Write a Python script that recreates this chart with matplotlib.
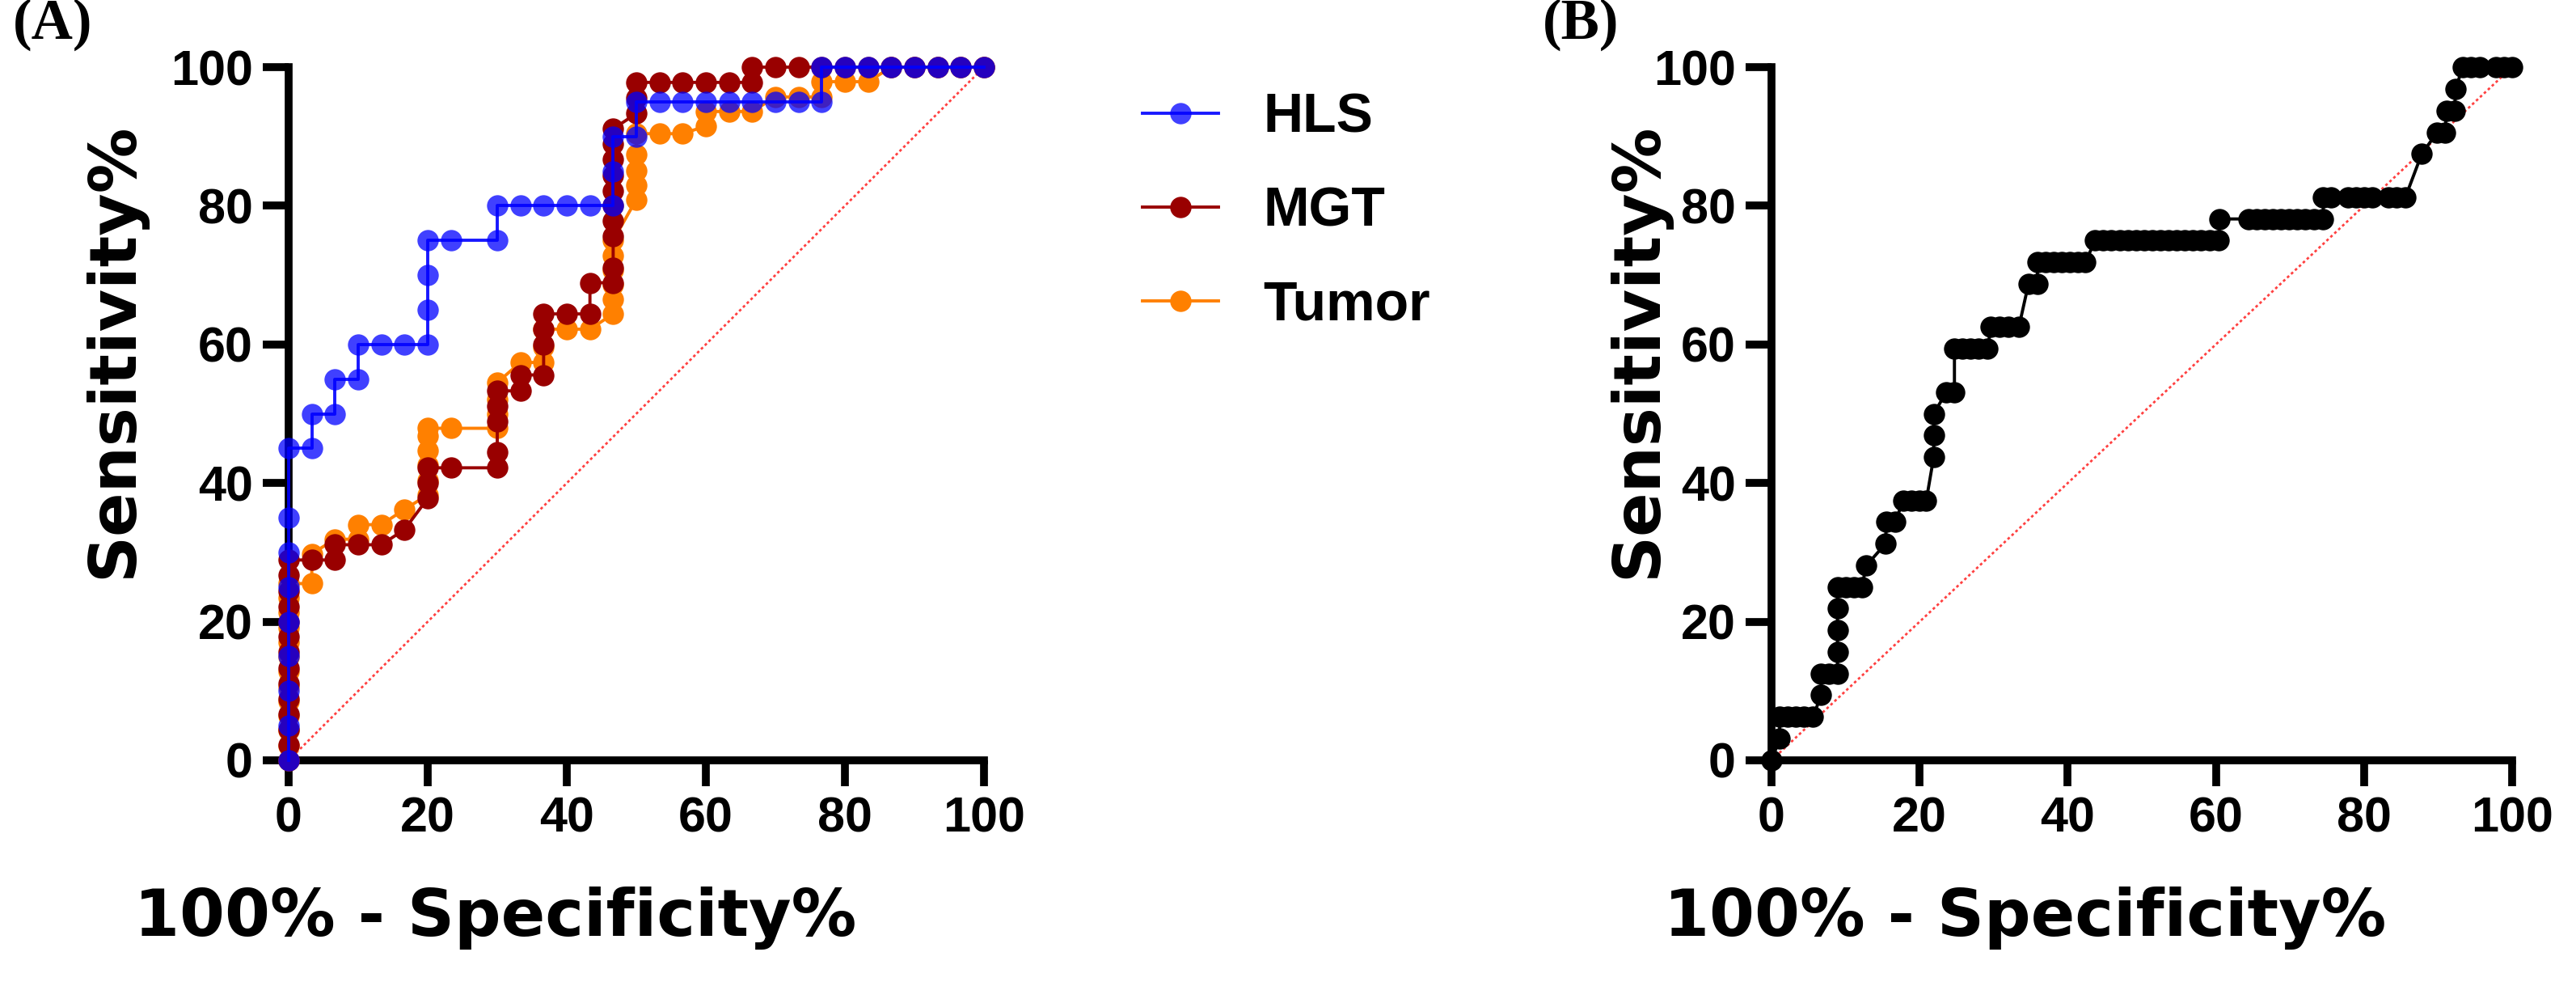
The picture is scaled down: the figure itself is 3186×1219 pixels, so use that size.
import matplotlib
matplotlib.use("Agg")
import matplotlib.pyplot as plt

# ---------------- data ----------------
ticks = [0, 20, 40, 60, 80, 100]
series_names = ["HLS", "MGT", "Tumor"]

hls_points = [(0, 0), (0, 5), (0, 10), (0, 15), (0, 20), (0, 25), (0, 30), (0, 35), (0, 45),
              (3.33, 45), (3.33, 50), (6.67, 50), (6.67, 55), (10, 55), (10, 60), (13.33, 60),
              (16.67, 60), (20, 60), (20, 65), (20, 70), (20, 75), (23.33, 75), (30, 75), (30, 80),
              (33.33, 80), (36.67, 80), (40, 80), (43.33, 80), (46.67, 80), (46.67, 85), (46.67, 90),
              (50, 90), (50, 95), (53.33, 95), (56.67, 95), (60, 95), (63.33, 95), (66.67, 95),
              (70, 95), (73.33, 95), (76.67, 95), (76.67, 100), (80, 100), (83.33, 100), (86.67, 100),
              (90, 100), (93.33, 100), (96.67, 100), (100, 100)]

mgt_points = [(0, 0), (0, 2.2), (0, 4.4), (0, 6.7), (0, 8.9), (0, 11.1), (0, 13.3), (0, 15.6),
              (0, 17.8), (0, 20), (0, 22.2), (0, 24.4), (0, 26.7), (0, 28.9),
              (3.33, 28.9), (6.67, 28.9), (6.67, 31.1), (10, 31.1), (13.33, 31.1), (16.67, 33.3),
              (20, 37.8), (20, 40), (20, 42.2), (23.33, 42.2), (30, 42.2), (30, 44.4), (30, 48.9),
              (30, 51.1), (30, 53.3), (33.33, 53.3), (33.33, 55.6), (36.67, 55.6), (36.67, 60),
              (36.67, 62.2), (36.67, 64.4), (40, 64.4), (43.33, 64.4), (43.33, 68.9),
              (46.67, 68.9), (46.67, 71.1), (46.67, 75.6), (46.67, 77.8), (46.67, 80), (46.67, 82.2),
              (46.67, 84.4), (46.67, 86.7), (46.67, 88.9), (46.67, 91.1),
              (50, 93.3), (50, 95.6), (50, 97.8), (53.33, 97.8), (56.67, 97.8), (60, 97.8),
              (63.33, 97.8), (66.67, 97.8), (66.67, 100), (70, 100), (73.33, 100), (76.67, 100),
              (80, 100), (83.33, 100), (86.67, 100), (90, 100), (93.33, 100), (96.67, 100), (100, 100)]

tumor_points = [(0, 0), (0, 2.1), (0, 4.3), (0, 6.4), (0, 8.5), (0, 10.6), (0, 12.8), (0, 14.9),
                (0, 17), (0, 19.1), (0, 21.3), (0, 23.4), (0, 25.5),
                (3.33, 25.5), (3.33, 29.8), (6.67, 31.9), (10, 31.9), (10, 34.0), (13.33, 34.0),
                (16.67, 36.2), (20, 38.3), (20, 40.4), (20, 42.6), (20, 44.7), (20, 46.8), (20, 47.9),
                (23.33, 47.9), (30, 47.9), (30, 50.0), (30, 52.1), (30, 54.5), (33.33, 57.4),
                (36.67, 57.4), (36.67, 59.6), (36.67, 62.2), (40, 62.2), (43.33, 62.2),
                (46.67, 64.4), (46.67, 66.5), (46.67, 68.6), (46.67, 70.7), (46.67, 72.8), (46.67, 75.0),
                (50, 80.9), (50, 83.0), (50, 85.1), (50, 87.4), (50, 90.4), (53.33, 90.4),
                (56.67, 90.4), (60, 91.5), (60, 93.6), (63.33, 93.6), (66.67, 93.6), (70, 95.7),
                (73.33, 95.7), (76.67, 95.7), (76.67, 97.9), (80, 97.9), (83.33, 97.9), (86.67, 100),
                (90, 100), (93.33, 100), (96.67, 100), (100, 100)]

b_points = [(0, 0), (1.1, 3.1), (1.1, 6.25), (2.2, 6.25), (3.3, 6.25), (4.4, 6.25), (5.6, 6.25),
            (6.7, 9.4), (6.7, 12.5), (7.8, 12.5), (8.9, 12.5), (8.9, 15.6), (8.9, 18.75), (8.9, 21.9),
            (8.9, 25), (10, 25), (11.1, 25), (12.2, 25), (12.8, 28.1), (15.4, 31.25), (15.5, 34.4),
            (16.7, 34.4), (17.8, 37.5), (18.9, 37.5), (20, 37.5), (20.9, 37.5), (21.9, 43.75),
            (21.9, 46.9), (21.9, 50), (23.6, 53.1), (24.7, 53.1), (24.7, 59.4), (25.8, 59.4),
            (26.9, 59.4), (28, 59.4), (29.2, 59.4), (29.6, 62.5), (30.8, 62.5), (32, 62.5),
            (33.4, 62.5), (34.7, 68.75), (35.9, 68.75), (35.9, 71.9), (37, 71.9), (38.1, 71.9),
            (39.2, 71.9), (40.3, 71.9), (41.4, 71.9), (42.4, 71.9), (43.7, 75), (44.8, 75),
            (45.9, 75), (47, 75), (48.1, 75), (49.2, 75), (50.3, 75), (51.4, 75), (52.5, 75),
            (53.6, 75), (54.7, 75), (55.8, 75), (56.9, 75), (58, 75), (59.2, 75), (60.4, 75),
            (60.5, 78.1), (64.4, 78.1), (65.5, 78.1), (66.6, 78.1), (67.7, 78.1), (68.8, 78.1),
            (69.9, 78.1), (71, 78.1), (72.1, 78.1), (73.3, 78.1), (74.5, 78.1), (74.5, 81.25),
            (75.6, 81.25), (77.8, 81.25), (78.9, 81.25), (80, 81.25), (81.1, 81.25), (83.3, 81.25),
            (84.4, 81.25), (85.6, 81.25), (87.8, 87.5), (89.9, 90.6), (90.9, 90.6), (91.2, 93.75),
            (92.2, 93.75), (92.4, 96.9), (93.3, 100), (94.4, 100), (95.6, 100), (97.8, 100),
            (98.9, 100), (100, 100)]

ref_line = [0, 100]

# ---------------- style ----------------
SANS = ["Liberation Sans", "DejaVu Sans"]
WIDE = ["DejaVu Sans"]
SERIF = ["Liberation Serif", "DejaVu Serif"]
plt.rcParams["font.family"] = SANS
plt.rcParams["font.weight"] = "bold"

W, H = 3186, 1219
fig = plt.figure(figsize=(W / 100, H / 100), dpi=100)

ax_h = 857 / H
bottom = (H - 940) / H
axA = fig.add_axes([357 / W, bottom, 860 / W, ax_h])
axB = fig.add_axes([2191 / W, bottom, 916 / W, ax_h])

TICK_FS = 44
LABEL_FS = 58

def style_axis(ax, xlab_x, ylab_x):
    ax.set_xlim(0, 100)
    ax.set_ylim(0, 100)
    ax.set_xticks(ticks)
    ax.set_yticks(ticks)
    for s in ["top", "right"]:
        ax.spines[s].set_visible(False)
    for s in ["left", "bottom"]:
        ax.spines[s].set_linewidth(7)
        ax.spines[s].set_capstyle("projecting")
    ax.tick_params(axis="both", direction="out", length=23, width=7, pad=9,
                   labelsize=TICK_FS)
    for lab in ax.get_xticklabels() + ax.get_yticklabels():
        lab.set_fontweight("bold")
    ax.set_xlabel("100% - Specificity%", fontsize=LABEL_FS, fontweight="bold", family=WIDE)
    ax.set_ylabel("Sensitivity%", fontsize=LABEL_FS, fontweight="bold", family=WIDE)
    ax.xaxis.set_label_coords(xlab_x, -0.228)
    ax.xaxis.label.set_va("center")
    ax.yaxis.set_label_coords(ylab_x, 0.591)
    ax.yaxis.label.set_va("center")
    ax.plot(ref_line, ref_line, color="#ff4040", lw=2.0, ls=(0, (1.2, 1.2)), zorder=2)

style_axis(axA, 0.297, -0.251)
style_axis(axB, 0.342, -0.18)

MS = 19
LW = 2.8

def unzip(pts):
    return [p[0] for p in pts], [p[1] for p in pts]

tx, ty = unzip(tumor_points)
mx, my = unzip(mgt_points)
hx, hy = unzip(hls_points)

l_t, = axA.plot(tx, ty, color="#ff8000", lw=LW, marker="o", ms=MS, mec="none",
                clip_on=False, zorder=4, label="Tumor")
l_m, = axA.plot(mx, my, color="#990000", lw=LW, marker="o", ms=MS, mec="none",
                clip_on=False, zorder=5, label="MGT")
l_h, = axA.plot(hx, hy, color=(0, 0, 1, 0.9), lw=LW, marker="o", ms=MS, mec="none",
                mfc=(0, 0, 1, 0.75), clip_on=False, zorder=6, label="HLS")

bx, by = unzip(b_points)
axB.plot(bx, by, color="black", lw=LW, marker="o", ms=MS, mec="none", clip_on=False, zorder=5)

leg = fig.legend([l_h, l_m, l_t], series_names, loc="upper left",
                 bbox_to_anchor=(1413 / W, 1 - 114 / H), bbox_transform=fig.transFigure,
                 frameon=False, borderpad=0, borderaxespad=0, handlelength=1.38,
                 handletextpad=0.82, labelspacing=0.76,
                 prop={"family": SANS, "weight": "bold", "size": 49})

fig.text(16 / W, 1 - 30 / H, "(A)", fontsize=51, fontweight="bold", family=SERIF,
         ha="left", va="center")
fig.text(1908 / W, 1 - 30 / H, "(B)", fontsize=51, fontweight="bold", family=SERIF,
         ha="left", va="center")

fig.savefig("out.png", dpi=100, facecolor="white")
